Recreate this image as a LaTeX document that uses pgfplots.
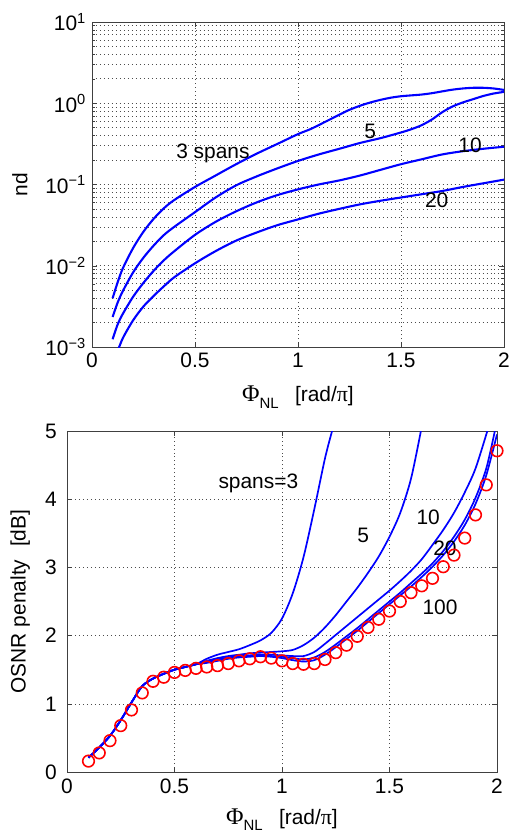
\documentclass[border=0pt]{standalone}
\usepackage{pgfplots}
\pgfplotsset{compat=1.18}
\usepackage{fontspec}
\setmainfont{Liberation Sans}
\newfontfamily\symf{Liberation Serif}
\newcommand{\philabel}{{\symf\fontsize{24}{24}\selectfont Φ}\raisebox{-0.55ex}{\fontsize{15}{15}\selectfont NL}\,\,\, [rad/{\symf\fontsize{22}{22}\selectfont π}]}

\pgfplotstableread{
x y
0.100 0.00398
0.125 0.00631
0.150 0.00933
0.200 0.0166
0.250 0.0263
0.300 0.0380
0.350 0.0513
0.400 0.0646
0.500 0.0933
0.600 0.129
0.700 0.178
0.800 0.240
0.900 0.316
1.000 0.417
1.060 0.48
1.120 0.57
1.180 0.68
1.240 0.81
1.300 0.93
1.350 1.02
1.400 1.10
1.450 1.17
1.500 1.22
1.550 1.25
1.600 1.28
1.650 1.33
1.700 1.40
1.750 1.47
1.800 1.52
1.850 1.55
1.900 1.55
1.950 1.52
2.000 1.46
}\topA

\pgfplotstableread{
x y
0.100 0.00234
0.125 0.00355
0.150 0.0049
0.200 0.00832
0.250 0.0126
0.300 0.0178
0.350 0.0240
0.400 0.0302
0.500 0.0457
0.600 0.0692
0.700 0.0977
0.800 0.126
0.900 0.158
1.000 0.195
1.100 0.234
1.200 0.275
1.300 0.324
1.400 0.372
1.500 0.437
1.550 0.479
1.600 0.537
1.650 0.631
1.700 0.776
1.750 0.912
1.800 1.023
1.850 1.122
1.900 1.230
1.950 1.318
2.000 1.380
}\topB

\pgfplotstableread{
x y
0.100 0.001245
0.125 0.00191
0.150 0.00257
0.200 0.00417
0.250 0.00617
0.300 0.00871
0.350 0.01175
0.400 0.01514
0.500 0.0240
0.600 0.0347
0.700 0.0468
0.800 0.0603
0.900 0.0741
1.000 0.0871
1.100 0.1000
1.200 0.1122
1.300 0.1288
1.400 0.1514
1.500 0.1778
1.600 0.2042
1.700 0.2344
1.800 0.2570
1.900 0.2754
2.000 0.2917
}\topC

\pgfplotstableread{
x y
0.120 0.000832
0.150 0.00129
0.200 0.00214
0.250 0.00316
0.300 0.00427
0.350 0.00562
0.400 0.00724
0.500 0.01072
0.600 0.01514
0.700 0.0204
0.800 0.0257
0.900 0.0316
1.000 0.0372
1.100 0.0437
1.200 0.0501
1.300 0.0569
1.400 0.0631
1.500 0.0692
1.600 0.0759
1.700 0.0832
1.800 0.0933
1.900 0.1035
2.000 0.1148
}\topD

\pgfplotstableread{
x y
0.10 0.16
0.15 0.28
0.20 0.46
0.25 0.68
0.30 0.91
0.35 1.16
0.40 1.33
0.45 1.39
0.50 1.46
0.55 1.49
0.60 1.52
0.65 1.54
0.70 1.56
0.75 1.59
0.80 1.63
0.85 1.66
0.90 1.69
0.95 1.67
1.00 1.63
1.05 1.59
1.10 1.58
1.15 1.59
1.20 1.65
1.25 1.75
1.30 1.86
1.35 1.99
1.40 2.12
1.45 2.24
1.50 2.36
1.55 2.50
1.60 2.63
1.65 2.73
1.70 2.84
1.75 3.01
1.80 3.18
1.85 3.43
1.90 3.77
1.95 4.21
2.00 4.71
}\circ

\pgfplotstableread{
x y
0.10 0.21
0.15 0.36
0.20 0.53
0.25 0.76
0.30 1.02
0.35 1.26
0.40 1.37
0.45 1.44
0.50 1.50
0.55 1.54
0.60 1.58
0.65 1.66
0.70 1.72
0.75 1.76
0.80 1.80
0.85 1.86
0.90 1.93
0.95 2.04
1.00 2.25
1.05 2.62
1.10 3.15
1.15 3.85
1.20 4.60
1.233 5.00
}\botA

\pgfplotstableread{
x y
0.10 0.21
0.15 0.36
0.20 0.53
0.25 0.76
0.30 1.02
0.35 1.26
0.40 1.37
0.45 1.44
0.50 1.50
0.55 1.54
0.60 1.58
0.65 1.63
0.70 1.67
0.75 1.70
0.80 1.72
0.85 1.74
0.90 1.75
0.95 1.76
1.00 1.77
1.05 1.79
1.10 1.86
1.15 1.97
1.20 2.12
1.25 2.30
1.30 2.50
1.35 2.70
1.40 2.92
1.45 3.16
1.50 3.45
1.55 3.80
1.60 4.30
1.646 5.00
}\botB

\pgfplotstableread{
x y
0.10 0.21
0.15 0.36
0.20 0.53
0.25 0.76
0.30 1.02
0.35 1.26
0.40 1.37
0.45 1.44
0.50 1.50
0.55 1.54
0.60 1.58
0.65 1.62
0.70 1.65
0.75 1.68
0.80 1.70
0.85 1.71
0.90 1.72
0.95 1.72
1.00 1.71
1.05 1.70
1.10 1.70
1.15 1.76
1.20 1.88
1.25 2.01
1.30 2.14
1.35 2.27
1.40 2.40
1.45 2.53
1.50 2.66
1.55 2.80
1.60 2.95
1.65 3.12
1.70 3.33
1.75 3.55
1.80 3.80
1.85 4.10
1.90 4.45
1.955 5.00
}\botC

\pgfplotstableread{
x y
0.10 0.21
0.15 0.36
0.20 0.53
0.25 0.76
0.30 1.02
0.35 1.26
0.40 1.37
0.45 1.44
0.50 1.50
0.55 1.54
0.60 1.58
0.65 1.61
0.70 1.64
0.75 1.67
0.80 1.69
0.85 1.70
0.90 1.71
0.95 1.70
1.00 1.69
1.05 1.67
1.10 1.65
1.15 1.68
1.20 1.76
1.25 1.87
1.30 1.99
1.35 2.11
1.40 2.24
1.45 2.37
1.50 2.50
1.55 2.63
1.60 2.77
1.65 2.91
1.70 3.06
1.75 3.24
1.80 3.45
1.85 3.70
1.90 4.02
1.95 4.45
1.99 5.00
}\botD

\pgfplotstableread{
x y
0.10 0.21
0.15 0.36
0.20 0.53
0.25 0.76
0.30 1.02
0.35 1.26
0.40 1.37
0.45 1.44
0.50 1.50
0.55 1.54
0.60 1.58
0.65 1.60
0.70 1.63
0.75 1.66
0.80 1.68
0.85 1.69
0.90 1.70
0.95 1.69
1.00 1.67
1.05 1.64
1.10 1.62
1.15 1.64
1.20 1.72
1.25 1.83
1.30 1.95
1.35 2.07
1.40 2.20
1.45 2.33
1.50 2.46
1.55 2.59
1.60 2.72
1.65 2.86
1.70 3.01
1.75 3.18
1.80 3.38
1.85 3.62
1.90 3.93
1.95 4.35
2.00 4.95
}\botE

\pgfplotsset{
  mystyle/.style={
    scale only axis,
    xmin=0, xmax=2,
    xtick={0,0.5,1,1.5,2}, xticklabels={0,0.5,1,1.5,2},
    tick align=inside,
    major tick length=5bp, minor tick length=3bp,
    axis line style={black!75, line width=0.6pt},
    every tick/.style={black!75, line width=0.5pt},
    tick label style={font=\fontsize{21}{24}\selectfont, black},
    label style={font=\fontsize{21}{24}\selectfont, black},
    grid style={black!70, line width=0.6pt, dash pattern=on 0.7pt off 3.3pt},
    minor grid style={black!70, line width=0.6pt, dash pattern=on 0.7pt off 3.3pt},
    clip=true,
  }
}

\begin{document}
\fontsize{21}{24}\selectfont
\begin{tikzpicture}
\path[use as bounding box] (0bp,0bp) rectangle (509bp,-839bp);

\begin{semilogyaxis}[
  mystyle,
  at={(92bp,-22bp)}, anchor=north west,
  width=412bp, height=325bp,
  ymin=1e-3, ymax=10,
  ytick={1e-3,1e-2,1e-1,1,10},
  yticklabels={10\textsuperscript{−3},10\textsuperscript{−2},10\textsuperscript{−1},10\textsuperscript{0},10\textsuperscript{1}},
  yticklabel style={xshift=1bp},
  xticklabel style={yshift=1bp},
  xmajorgrids=true, ymajorgrids=true, yminorgrids=true,
  xlabel={\philabel},
  ylabel={nd},
  xlabel style={at={(axis description cs:0.5,-0.169)}, anchor=base},
  ylabel style={at={(axis description cs:-0.175,0.5)}, anchor=center},
]
\addplot[blue, line width=2.1pt, smooth] table {\topA};
\addplot[blue, line width=2.1pt, smooth] table {\topB};
\addplot[blue, line width=2.1pt, smooth] table {\topC};
\addplot[blue, line width=2.1pt, smooth] table {\topD};
\node[font=\fontsize{21}{24}\selectfont] at (axis cs:0.587,0.244) {3 spans};
\node[font=\fontsize{21}{24}\selectfont] at (axis cs:1.35,0.447) {5};
\node[font=\fontsize{21}{24}\selectfont] at (axis cs:1.835,0.306) {10};
\node[font=\fontsize{21}{24}\selectfont] at (axis cs:1.673,0.0645) {20};
\end{semilogyaxis}

\begin{axis}[
  mystyle,
  at={(67bp,-431bp)}, anchor=north west,
  width=430bp, height=341bp,
  ymin=0, ymax=5,
  ytick={0,1,2,3,4,5}, yticklabels={0,1,2,3,4,5},
  yticklabel style={xshift=-3bp},
  grid=major,
  xlabel={\philabel},
  ylabel={OSNR penalty\,\, [dB]},
  xlabel style={at={(axis description cs:0.5,-0.153)}, anchor=base},
  ylabel style={at={(axis description cs:-0.109,0.5)}, anchor=center},
]
\addplot[blue, line width=1.7pt, smooth] table {\botA};
\addplot[blue, line width=1.7pt, smooth] table {\botB};
\addplot[blue, line width=1.7pt, smooth] table {\botC};
\addplot[blue, line width=1.7pt, smooth] table {\botD};
\addplot[blue, line width=1.7pt, smooth] table {\botE};
\addplot[only marks, mark=o, mark size=5.8bp, red, mark options={line width=1.6pt}] table {\circ};
\node[font=\fontsize{21}{24}\selectfont] at (axis cs:0.89,4.23) {spans=3};
\node[font=\fontsize{21}{24}\selectfont] at (axis cs:1.378,3.47) {5};
\node[font=\fontsize{21}{24}\selectfont] at (axis cs:1.68,3.74) {10};
\node[font=\fontsize{21}{24}\selectfont] at (axis cs:1.758,3.28) {20};
\node[font=\fontsize{21}{24}\selectfont] at (axis cs:1.735,2.42) {100};
\end{axis}
\end{tikzpicture}
\end{document}
